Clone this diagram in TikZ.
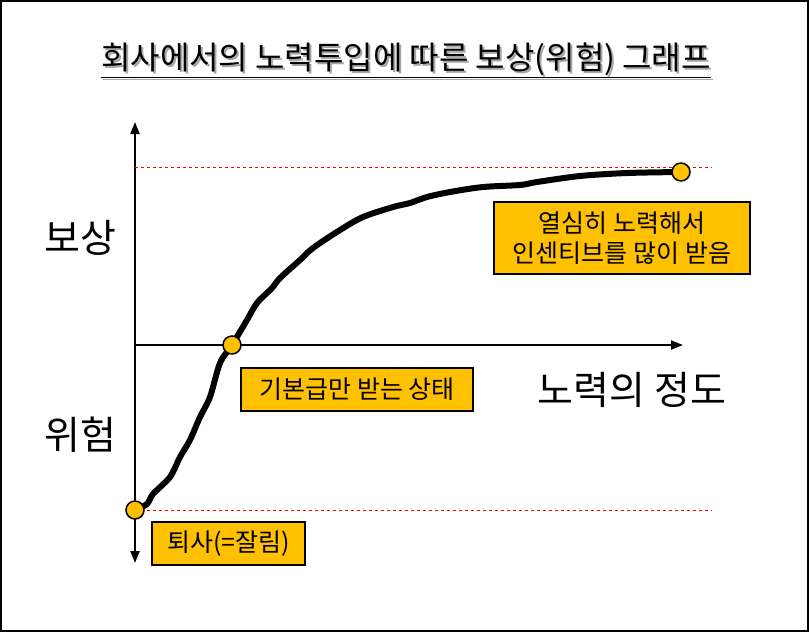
\documentclass[tikz,border=0pt]{standalone}
\usepackage{fontspec}
\setmainfont{Noto Sans CJK KR}
\usetikzlibrary{positioning,arrows.meta}

\begin{document}
\begin{tikzpicture}[x=1pt, y=-1pt,
		dot/.style= {circle, draw=black, line width=1.5pt, fill=gold, minimum size=18pt, inner sep=0pt},
		tag/.style= {draw=black, line width=1.5pt, fill=gold, font=\fontsize{25}{30}\selectfont, align=center, inner sep=0pt},
		axis/.style= {line width=2pt, -{Triangle[length=12pt,width=9pt]}},
		guide/.style= {red, dashed, line width=1pt},
		big/.style= {font=\fontsize{39}{42}\selectfont}]
		\definecolor{gold}{HTML}{FFC000}
		\useasboundingbox (0,0) rectangle (810,633);
		\draw[line width=2pt] (1,1) rectangle (808,631);

		\node[font=\fontsize{32}{34}\selectfont, text=black!35] (t2) at (408,62) {\underline{회사에서의 노력투입에 따른 보상(위험) 그래프}};
		\node[font=\fontsize{32}{34}\selectfont] (t) at (406,60) {\underline{회사에서의 노력투입에 따른 보상(위험) 그래프}};

		\coordinate (o) at (135,345);
		\coordinate (yt) at (135,122);
		\coordinate (yb) at (135,563);
		\coordinate (xr) at (683,345);
		\coordinate (g1) at (712,167);
		\coordinate (g2) at (712,510);

		\draw[axis] (o) -- (yt);
		\draw[axis] (o) -- (yb);
		\draw[axis] (o) -- (xr);
		\draw[guide] (yt |- g1) -- (g1);

		\node[big] (r) at (80,238) {보상};
		\node[big] (w) at (80,435) {위험};
		\node[big] (x) at (632,390) {노력의 정도};

		\draw[line width=6pt, line join=round, line cap=round] plot[smooth, tension=0.5] coordinates {(135,510) (147,504) (153,494) (170,477) (180,457) (190,440) (200,417) (210,397) (220,363) (232,345) (247,320) (257,303) (272,288) (280,278) (300,260) (313,248) (340,230) (363,217) (393,207) (410,203) (427,197) (450,192) (483,187) (520,185) (537,182) (580,176) (627,173) (681,172)};

		\draw[guide] (yt |- g2) -- (g2);

		\node[dot] (d0) at (135,510) {};
		\node[dot] (d1) at (232,345) {};
		\node[dot] (d2) at (681,172) {};

		\node[tag, minimum width=153pt, minimum height=43pt] (b0) at (228.5,543.5) {퇴사(=잘림)};
		\node[tag, minimum width=232pt, minimum height=43pt] (b1) at (357,389.5) {기본급만 받는 상태};
		\node[tag, minimum width=256pt, minimum height=72pt] (b2) at (622,238) {열심히 노력해서\\인센티브를 많이 받음};
\end{tikzpicture}
\end{document}
